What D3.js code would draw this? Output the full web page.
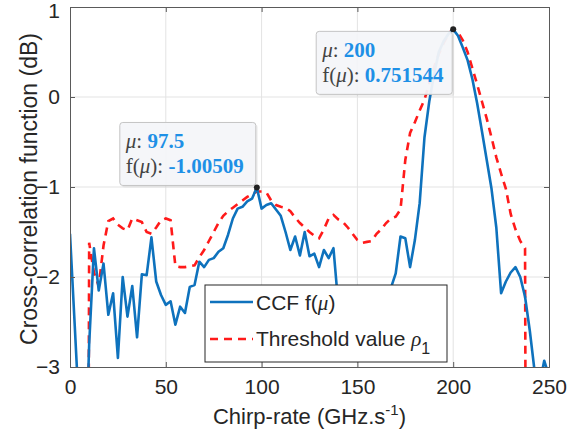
<!DOCTYPE html>
<html><head><meta charset="utf-8">
<script src="https://cdn.jsdelivr.net/npm/d3@7/dist/d3.min.js"></script>
<style>body{margin:0;background:#fff}svg{display:block}</style>
</head><body><svg id="c" width="587" height="440"></svg>
<script>
// ---- data ----
const chirpRate = d3.range(0, 250.001, 2.5);
const ccfValues = [
 -1.52,-2.55,-3.6,-4.5,-2.75,-1.68,-2.15,-1.85,-2.42,-2.18,
 -2.9,-2.0,-2.44,-2.1,-2.67,-1.97,-1.98,-1.56,-2.05,-2.2,
 -2.31,-2.27,-2.53,-2.33,-2.40,-2.11,-2.09,-1.83,-1.89,-1.81,
 -1.79,-1.72,-1.68,-1.53,-1.35,-1.24,-1.22,-1.16,-1.13,-1.00509,
 -1.24,-1.2,-1.18,-1.25,-1.32,-1.5,-1.70,-1.55,-1.76,-1.50,
 -1.77,-1.74,-1.89,-1.70,-1.79,-1.68,-2.3,-2.5,-2.7,-2.6,
 -2.8,-2.7,-2.8,-2.7,-2.6,-2.4,-2.4,-2.12,-1.96,-1.55,
 -1.57,-1.89,-1.59,-1.18,-0.45,-0.05,0.25,0.5,0.62,0.7,
 0.751544,0.68,0.55,0.41,0.2,-0.07,-0.38,-0.7,-1.02,-1.45,
 -2.18,-2.05,-1.95,-1.89,-2.0,-2.22,-2.6,-3.05,-3.2,-2.93,-3.1];
const thresholdValues = [
 -20,-20,-20,-20,-1.62,-1.95,-2.1,-1.65,-1.38,-1.35,
 -1.42,-1.46,-1.48,-1.35,-1.37,-1.39,-1.5,-1.52,-1.45,-1.37,
 -1.35,-1.37,-1.88,-1.89,-1.89,-1.88,-1.87,-1.78,-1.70,-1.6,
 -1.5,-1.4,-1.32,-1.27,-1.23,-1.19,-1.15,-1.11,-1.08,-1.05,
 -1.05,-1.06,-1.15,-1.2,-1.22,-1.23,-1.27,-1.34,-1.4,-1.45,
 -1.5,-1.54,-1.57,-1.47,-1.35,-1.31,-1.36,-1.39,-1.45,-1.52,
 -1.59,-1.62,-1.61,-1.6,-1.52,-1.47,-1.4,-1.35,-1.33,-1.25,
 -0.7,-0.4,-0.28,-0.15,-0.03,0.15,0.33,0.48,0.6,0.7,
 0.76,0.72,0.63,0.5,0.32,0.14,-0.05,-0.24,-0.45,-0.67,
 -0.85,-1.02,-1.3,-1.47,-1.6,-1.68,-20,-20,-20,-20,-20];
const xTicks = [0, 50, 100, 150, 200, 250];
const yTicks = [-3, -2, -1, 0, 1];
const dataTips = [
  {mu: 97.5, f: -1.00509, muText: "97.5", fText: "-1.00509", place: "above"},
  {mu: 200, f: 0.751544, muText: "200", fText: "0.751544", place: "below"}
];

// ---- layout ----
const L = 70, R = 549, T = 7, B = 367;
const svg = d3.select("#c");
const x = d3.scaleLinear().domain([0, 250]).range([L, R]);
const y = d3.scaleLinear().domain([-3, 1]).range([B, T]);
const sans = "'Liberation Sans', Arial, sans-serif";
const serif = "'Liberation Serif', 'Times New Roman', serif";

// grid
const g = svg.append("g");
g.selectAll(".gx").data(xTicks.slice(1, -1)).enter().append("line")
  .attr("x1", d => x(d)).attr("x2", d => x(d)).attr("y1", T).attr("y2", B)
  .attr("stroke", "#e3e3e3").attr("stroke-width", 1);
g.selectAll(".gy").data(yTicks.slice(1, -1)).enter().append("line")
  .attr("y1", d => y(d)).attr("y2", d => y(d)).attr("x1", L).attr("x2", R)
  .attr("stroke", "#e3e3e3").attr("stroke-width", 1);

// clip
svg.append("clipPath").attr("id", "clip").append("rect")
  .attr("x", L).attr("y", T).attr("width", R - L).attr("height", B - T);

const line = d3.line().x((d, i) => x(chirpRate[i])).y(d => y(d));
const plot = svg.append("g").attr("clip-path", "url(#clip)");
plot.append("path").datum(thresholdValues).attr("d", line)
  .attr("fill", "none").attr("stroke", "#ff1a1a").attr("stroke-width", 2.6)
  .attr("stroke-dasharray", "8,6");
plot.append("path").datum(ccfValues).attr("d", line)
  .attr("fill", "none").attr("stroke", "#0e72bd").attr("stroke-width", 2.6)
  .attr("stroke-linejoin", "round");

// axes
const ax = svg.append("g");
const xAxis = d3.axisBottom(x).tickValues(xTicks).tickSize(-5).tickPadding(12).tickFormat(d3.format("d"));
const yAxis = d3.axisLeft(y).tickValues(yTicks).tickSize(-5).tickPadding(10).tickFormat(d3.format("d"));
ax.append("g").attr("transform", `translate(0,${B})`).call(xAxis);
const ya = ax.append("g").attr("transform", `translate(${L},0)`).call(yAxis);
ax.append("g").attr("transform", `translate(0,${T})`).call(d3.axisTop(x).tickValues(xTicks).tickSize(-5).tickFormat(""));
ax.append("g").attr("transform", `translate(${R},0)`).call(d3.axisRight(y).tickValues(yTicks).tickSize(-5).tickFormat(""));
ax.selectAll(".domain").attr("stroke", "#5a5a5a");
ax.selectAll(".tick line").attr("stroke", "#5a5a5a");
ax.selectAll("text").attr("font-family", sans).attr("font-size", 21).attr("fill", "#262626");
// keep the top "1" inside the picture
ya.selectAll(".tick").filter(d => d === 1).select("text").attr("dy", "0.5em");

// axis labels
const xl = svg.append("text").attr("x", (L + R) / 2).attr("y", 424).attr("text-anchor", "middle")
  .attr("font-family", sans).attr("font-size", 22).attr("fill", "#262626");
xl.append("tspan").text("Chirp-rate (GHz.s");
xl.append("tspan").attr("font-size", 15).attr("dy", -9).text("-1");
xl.append("tspan").attr("dy", 9).text(")");
svg.append("text").attr("transform", `translate(37,${(T + B) / 2 + 2}) rotate(-90)`)
  .attr("text-anchor", "middle").attr("font-family", sans).attr("font-size", 23)
  .attr("fill", "#262626").text("Cross-correlation function (dB)");

// data tips
dataTips.forEach(tp => {
  const px = x(tp.mu), py = y(tp.f);
  const w = 136, h = 63;
  const bx = px - w - 1, by = tp.place === "above" ? py - h - 2 : py + 2;
  svg.append("rect").attr("x", bx + 2).attr("y", by + 2).attr("width", w).attr("height", h)
    .attr("rx", 3).attr("fill", "rgba(0,0,0,0.06)");
  svg.append("rect").attr("x", bx).attr("y", by).attr("width", w).attr("height", h)
    .attr("rx", 3).attr("fill", "#f4f6f9").attr("fill-opacity", 0.95).attr("stroke", "#c4c4c4");
  const t1 = svg.append("text").attr("x", bx + 6).attr("y", by + 26)
    .attr("font-family", serif).attr("font-size", 21).attr("fill", "#444");
  t1.append("tspan").attr("font-style", "italic").text("μ");
  t1.append("tspan").text(": ");
  t1.append("tspan").attr("font-weight", "bold").attr("fill", "#1e90e6").text(tp.muText);
  const t2 = svg.append("text").attr("x", bx + 6).attr("y", by + 51)
    .attr("font-family", serif).attr("font-size", 21).attr("fill", "#444");
  t2.append("tspan").text("f(");
  t2.append("tspan").attr("font-style", "italic").text("μ");
  t2.append("tspan").text("): ");
  t2.append("tspan").attr("font-weight", "bold").attr("fill", "#1e90e6").text(tp.fText);
  svg.append("circle").attr("cx", px).attr("cy", py).attr("r", 3).attr("fill", "#222");
});

// legend
const lg = svg.append("g");
lg.append("rect").attr("x", 205).attr("y", 285).attr("width", 242).attr("height", 77)
  .attr("fill", "#fff").attr("stroke", "#262626").attr("stroke-width", 1);
lg.append("line").attr("x1", 210).attr("x2", 253).attr("y1", 302).attr("y2", 302)
  .attr("stroke", "#0e72bd").attr("stroke-width", 2.6);
lg.append("line").attr("x1", 210).attr("x2", 253).attr("y1", 339).attr("y2", 339)
  .attr("stroke", "#ff1a1a").attr("stroke-width", 2.6).attr("stroke-dasharray", "8,6");
const l1 = lg.append("text").attr("x", 256).attr("y", 310).attr("font-family", sans)
  .attr("font-size", 21).attr("fill", "#262626");
l1.append("tspan").text("CCF f(");
l1.append("tspan").attr("font-family", serif).attr("font-style", "italic").text("μ");
l1.append("tspan").text(")");
const l2 = lg.append("text").attr("x", 256).attr("y", 346).attr("font-family", sans)
  .attr("font-size", 21).attr("fill", "#262626");
l2.append("tspan").text("Threshold value ");
l2.append("tspan").attr("font-family", serif).attr("font-style", "italic").text("ρ");
l2.append("tspan").attr("dy", 8).attr("font-size", 16).text("1");
</script></body></html>
